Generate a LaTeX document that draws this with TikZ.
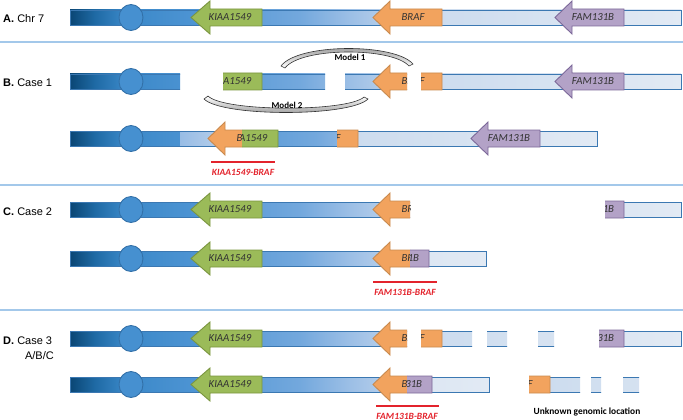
\documentclass[tikz,border=0pt]{standalone}
\usepackage{fontspec}
\setmainfont{Liberation Sans}
\newfontfamily\calib{Carlito}
\usetikzlibrary{positioning}

\definecolor{chrA}{HTML}{0A4674}
\definecolor{chrB}{HTML}{1F6AA5}
\definecolor{chrC}{HTML}{3A88C8}
\definecolor{chrD}{HTML}{4F95D4}
\definecolor{chrE}{HTML}{73A8DD}
\definecolor{chrF}{HTML}{9CBFE6}
\definecolor{chrG}{HTML}{CBDBEE}
\definecolor{chrH}{HTML}{E2EAF4}
\definecolor{chrline}{HTML}{3B78B2}
\definecolor{centfill}{HTML}{4690D0}
\definecolor{centline}{HTML}{3270A8}
\definecolor{kiaafill}{HTML}{9BBB59}
\definecolor{kiaaline}{HTML}{7A953F}
\definecolor{braffill}{HTML}{F2A35E}
\definecolor{brafline}{HTML}{C98A4E}
\definecolor{famfill}{HTML}{B3A2C7}
\definecolor{famline}{HTML}{7C6899}
\definecolor{genetext}{HTML}{333333}
\definecolor{divblue}{HTML}{A3C8EA}
\definecolor{fusred}{HTML}{E3232C}

\pgfdeclarehorizontalshading{chrshade}{100bp}{color(0bp)=(chrA); color(25bp)=(chrA); color(27.05bp)=(chrB); color(29.5bp)=(chrC); color(35.6bp)=(chrD); color(43.8bp)=(chrE); color(47.9bp)=(chrF); color(53.6bp)=(chrG); color(75bp)=(chrH); color(100bp)=(chrH)}

\tikzset{
  chrbar/.style={draw=chrline, line width=0.9pt, shading=chrshade},
  centro/.style={fill=centfill, draw=centline, line width=0.9pt},
  kiaa/.style={fill=kiaafill, draw=kiaaline, line width=0.9pt},
  braf/.style={fill=braffill, draw=brafline, line width=0.9pt},
  fam/.style={fill=famfill, draw=famline, line width=0.9pt},
  genename/.style={inner sep=0pt, text=genetext, font=\calib\itshape\fontsize{10.8}{12}\selectfont},
  caselabel/.style={inner sep=0pt, font=\fontsize{11}{13}\selectfont},
  divider/.style={draw=divblue, line width=1.5pt},
  fusionbar/.style={draw=fusred, line width=2.4pt},
  fusionname/.style={inner sep=0pt, text=fusred, font=\calib\bfseries\itshape\fontsize{9.5}{11}\selectfont},
  modelarc/.style={draw=black!80, line width=0.6pt},
  modelname/.style={inner sep=0pt, font=\calib\bfseries\fontsize{9}{11}\selectfont},
}

% gene arrow pointing left: style, tip, head base, tail
\newcommand{\genearrow}[4]{%
  \filldraw[#1] (#2,0) -- (#3,-16.5) -- (#3,-8.5) -- (#4,-8.5) -- (#4,8.5) -- (#3,8.5) -- (#3,16.5) -- cycle;}

% whole chromosome 7 stretch, centred on y=0
\newcommand{\chromo}[1]{%
  \shadedraw[chrbar] (70,-7.5) rectangle (681,7.5);
  \filldraw[centro] (131,0) ellipse [x radius=12, y radius=13];
  \genearrow{kiaa}{191}{210}{262}
  \node[genename] (#1-kiaa) at (230,0) {KIAA1549};
  \genearrow{braf}{373}{390}{442}
  \node[genename] (#1-braf) at (413,0) {BRAF};
  \genearrow{fam}{555}{572}{624}
  \node[genename] (#1-fam) at (593,0) {FAM131B};
}

% a cut piece: row y, x shift, from, to, name
\newcommand{\chrpiece}[5]{%
  \begin{scope}[shift={(#2,#1)}]
    \clip (#3,-30) rectangle (#4,30);
    \chromo{#5}
  \end{scope}}

\begin{document}
\begin{tikzpicture}[x=1pt, y=-1pt]
\useasboundingbox (0,0) rectangle (683,420);

\draw[divider] (0,42) -- (683,42);
\draw[divider] (0,185) -- (683,185);
\draw[divider] (0,310) -- (683,310);

\node[caselabel, anchor=base west] (lblA) at (3,22.5) {\textbf{A.} Chr 7};
\node[caselabel, anchor=base west] (lblB) at (3,86.5) {\textbf{B.} Case 1};
\node[caselabel, anchor=base west] (lblC) at (3,215) {\textbf{C.} Case 2};
\node[caselabel, anchor=base west] (lblD) at (3,344) {\textbf{D.} Case 3};
\node[caselabel, anchor=base east] (lblDsub) at (54,359.5) {A/B/C};

% A
\chrpiece{17.5}{0}{60}{690}{A}

% B
\foreach \a/\b [count=\i] in {60/180,223/325,345/407,421/690}
  {\chrpiece{81.5}{0}{\a}{\b}{B1-\i}}
\foreach \s/\a/\b [count=\i] in {0/60/180,-165/345/407,16/226/321,-84/421/690}
  {\chrpiece{138.5}{\s}{\a}{\b}{B2-\i}}

\path[modelarc, top color=black!45, bottom color=white] (281,66) .. controls (298,43) and (395,43) .. (413,64) -- (409,66) .. controls (392,47) and (301,47) .. (285,68) -- cycle;
\node[modelname] (mod1) at (350,57.5) {Model 1};
\path[modelarc, bottom color=black!45, top color=white] (204,99) .. controls (222,117) and (350,117) .. (368,99) -- (364,97) .. controls (348,112) and (224,112) .. (208,96) -- cycle;
\node[modelname] (mod2) at (287,105.5) {Model 2};

\draw[fusionbar] (211,162) -- (275,162);
\node[fusionname] (fusB) at (243,172.5) {KIAA1549-BRAF};

% C
\foreach \a/\b [count=\i] in {60/410,605/690}
  {\chrpiece{209.5}{0}{\a}{\b}{C1-\i}}
\foreach \s/\a/\b [count=\i] in {0/60/410,-195/605/690}
  {\chrpiece{258.5}{\s}{\a}{\b}{C2-\i}}

\draw[fusionbar] (373,282) -- (437,282);
\node[fusionname] (fusC) at (405,292.5) {FAM131B-BRAF};

% D
\foreach \a/\b [count=\i] in {60/407,421/472,487/507,538/554,599/690}
  {\chrpiece{338.5}{0}{\a}{\b}{D1-\i}}
\foreach \s/\a/\b [count=\i] in {0/60/407,-192/599/690,108/421/472,108/483/493,108/515/531}
  {\chrpiece{384.5}{\s}{\a}{\b}{D2-\i}}

\draw[fusionbar] (376,406) -- (439,406);
\node[fusionname] (fusD) at (407,416) {FAM131B-BRAF};
\node[modelname, font=\calib\bfseries\fontsize{9.4}{11}\selectfont] (unk) at (587,412) {Unknown genomic location};
\end{tikzpicture}
\end{document}
